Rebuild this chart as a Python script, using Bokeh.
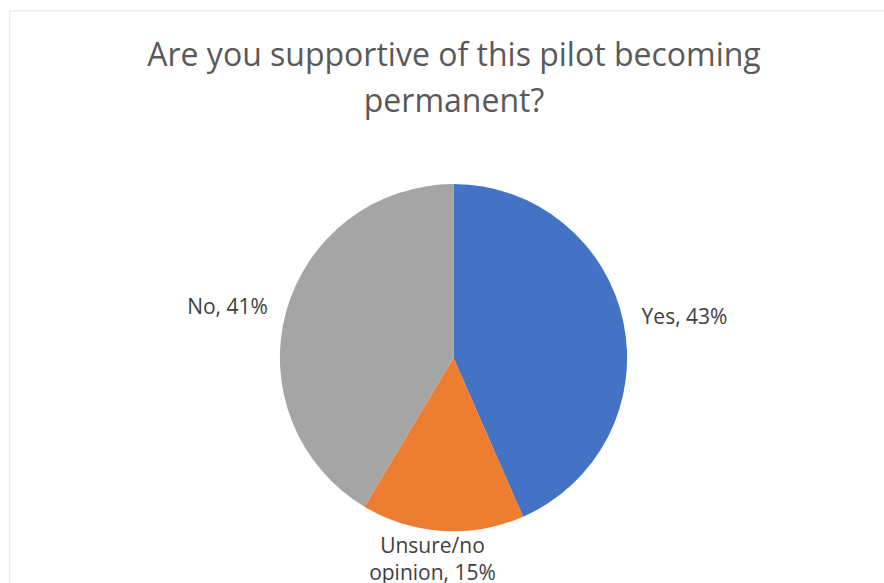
import math
from bokeh.plotting import figure
from bokeh.models import ColumnDataSource, Range1d, Span
from bokeh.core.properties import value
from bokeh.embed import file_html
from bokeh.resources import INLINE

# ---- data ----
categories = ["Yes", "Unsure/no opinion", "No"]
percents = [43, 15, 41]
colors = ["#4472C4", "#ED7D31", "#A5A5A5"]
title_lines = ["Are you supportive of this pilot becoming", "permanent?"]

# ---- layout (pixel-like data units) ----
W, H = 884, 583
ML, MT = 9, 10
FW, FH = W - ML, H - MT
cx, cy, r = 444, 225.8, 173.6
label_pos_x = [675, 423, 218]
label_pos_y = [268, 25.2, 278]

total = float(sum(percents))
starts, ends = [], []
a = math.pi / 2
for v in percents:
    starts.append(a)
    a -= 2 * math.pi * v / total
    ends.append(a)

p = figure(width=W, height=H, output_backend="svg", toolbar_location=None,
           x_range=Range1d(0, FW), y_range=Range1d(0, FH),
           x_axis_location=None, y_axis_location=None,
           min_border_left=ML, min_border_top=MT, min_border_right=0, min_border_bottom=0,
           background_fill_color="white", border_fill_color="white")
p.outline_line_color = None
p.grid.visible = False

src = ColumnDataSource(dict(start=starts, end=ends, color=colors, cat=categories))
p.wedge(x=cx, y=cy, radius=r, start_angle="start", end_angle="end", direction="clock",
        fill_color="color", line_color=None, source=src)

labels = []
for c, v in zip(categories, percents):
    txt = f"{c}, {v}%"
    if c == "Unsure/no opinion":
        txt = "Unsure/no\nopinion, " + f"{v}%"
    labels.append(txt)

lsrc = ColumnDataSource(dict(x=label_pos_x, y=label_pos_y, t=labels))
p.text(x="x", y="y", text="t", source=lsrc, text_font=value("Open Sans"),
       text_font_size="21px", text_color="#404040", text_align="center",
       text_baseline="middle", text_line_height=0.96)

p.text(x=[444.5], y=[530], text=[title_lines[0]], text_font=value("Open Sans"),
       text_font_size="32px", text_color="#595959", text_align="center",
       text_baseline="alphabetic")
p.text(x=[444.5], y=[484], text=[title_lines[1]], text_font=value("Open Sans"),
       text_font_size="32px", text_color="#595959", text_align="center",
       text_baseline="alphabetic")

p.add_layout(Span(location=0, dimension="height", line_color="#d9d9d9", line_width=1.5))
p.add_layout(Span(location=FH, dimension="width", line_color="#d9d9d9", line_width=1.5))

open("out.html", "w").write(file_html(p, INLINE))
